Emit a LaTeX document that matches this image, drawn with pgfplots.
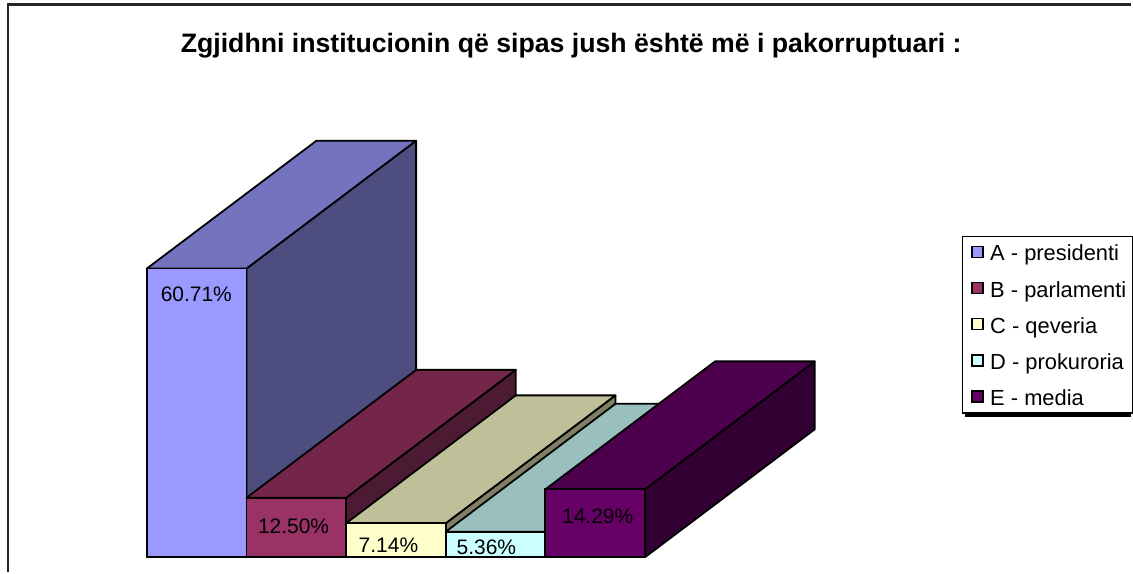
\documentclass[border=0pt]{standalone}
\usepackage{pgfplots}
\usepackage{fontspec}
\setmainfont{Liberation Sans}
\pgfplotsset{compat=1.18}
\definecolor{aF}{HTML}{9999FF}\definecolor{aT}{HTML}{7373BF}\definecolor{aS}{HTML}{4D4D80}
\definecolor{bF}{HTML}{993366}\definecolor{bT}{HTML}{732649}\definecolor{bS}{HTML}{4D1A33}
\definecolor{cF}{HTML}{FFFFCC}\definecolor{cT}{HTML}{BFBF99}\definecolor{cS}{HTML}{808066}
\definecolor{dF}{HTML}{CCFFFF}\definecolor{dT}{HTML}{99BFBF}\definecolor{dS}{HTML}{668080}
\definecolor{eF}{HTML}{660066}\definecolor{eT}{HTML}{4D004D}\definecolor{eS}{HTML}{330033}
\pgfplotsset{
  face/.style={draw=black,line width=1.8pt,line join=round,fill=#1,forget plot},
  front/.style={ybar,bar shift=0pt,bar width=1,draw=black,line width=1.8pt,fill=#1,
    area legend,
    legend image code/.code={\path[draw=none,fill=none] (0,-5.5pt) rectangle (22pt,5.5pt);\draw[draw=black,line width=1.5pt,fill=#1] (3.5pt,-5pt) rectangle (14.5pt,6pt);}},
}
\begin{document}
\begin{tikzpicture}[x=1pt,y=1pt]
\path (0,0) rectangle (1133,573);
\fill[black] (966,155) rectangle (1133,160);
\begin{axis}[
  at={(0,0)},anchor=south west,scale only axis,width=1133pt,height=573pt,
  xmin=-1.473,xmax=9.880,ymin=-3.15,ymax=117.2,hide axis,clip=false,
  legend style={at={(963pt,337pt)},anchor=north west,draw=black,line width=1.3pt,fill=white,
    font=\fontsize{21.9}{24}\selectfont,row sep=17.2pt,inner xsep=6pt,inner ysep=6.6pt,
    /tikz/column 2/.style={column sep=0pt},
    nodes={inner sep=0pt,anchor=west,text height=18pt,text depth=1pt}},
  legend cell align=left,
]
% A
\addplot[face=aS] coordinates {(1,0)(1,60.71)(2.703,87.61)(2.703,26.9)} -- cycle;
\addplot[face=aT] coordinates {(0,60.71)(1,60.71)(2.703,87.61)(1.703,87.61)} -- cycle;
\addplot[front=aF] coordinates {(0.5,60.71)};
\addlegendentry{A - presidenti}
% B
\addplot[face=bS] coordinates {(2,0)(2,12.5)(3.703,39.4)(3.703,26.9)} -- cycle;
\addplot[face=bT] coordinates {(1,12.5)(2,12.5)(3.703,39.4)(2.703,39.4)} -- cycle;
\addplot[front=bF] coordinates {(1.5,12.5)};
\addlegendentry{B - parlamenti}
% C
\addplot[face=cS] coordinates {(3,0)(3,7.14)(4.703,34.04)(4.703,26.9)} -- cycle;
\addplot[face=cT] coordinates {(2,7.14)(3,7.14)(4.703,34.04)(3.703,34.04)} -- cycle;
\addplot[front=cF] coordinates {(2.5,7.14)};
\addlegendentry{C - qeveria}
% D
\addplot[face=dS] coordinates {(4,0)(4,5.36)(5.703,32.26)(5.703,26.9)} -- cycle;
\addplot[face=dT] coordinates {(3,5.36)(4,5.36)(5.703,32.26)(4.703,32.26)} -- cycle;
\addplot[front=dF] coordinates {(3.5,5.36)};
\addlegendentry{D - prokuroria}
% E
\addplot[face=eS] coordinates {(5,0)(5,14.29)(6.703,41.19)(6.703,26.9)} -- cycle;
\addplot[face=eT] coordinates {(4,14.29)(5,14.29)(6.703,41.19)(5.703,41.19)} -- cycle;
\addplot[front=eF] coordinates {(4.5,14.29)};
\addlegendentry{E - media}
\path[font=\fontsize{21}{24}\selectfont,inner sep=0pt]
  (axis cs:0.497,55.2) node {60.71\%}
  (axis cs:1.473,6.6) node {12.50\%}
  (axis cs:2.425,2.6) node {7.14\%}
  (axis cs:3.408,2.1) node {5.36\%}
  (axis cs:4.525,8.6) node {14.29\%};
\end{axis}
\draw[line width=2.2pt,black!85] (8,0) -- (8,568.4) -- (1133,568.4);
\node[font=\bfseries\fontsize{26.7}{30}\selectfont,inner sep=0pt] at (572,527) {Zgjidhni institucionin që sipas jush është më i pakorruptuari :};
\end{tikzpicture}
\end{document}
